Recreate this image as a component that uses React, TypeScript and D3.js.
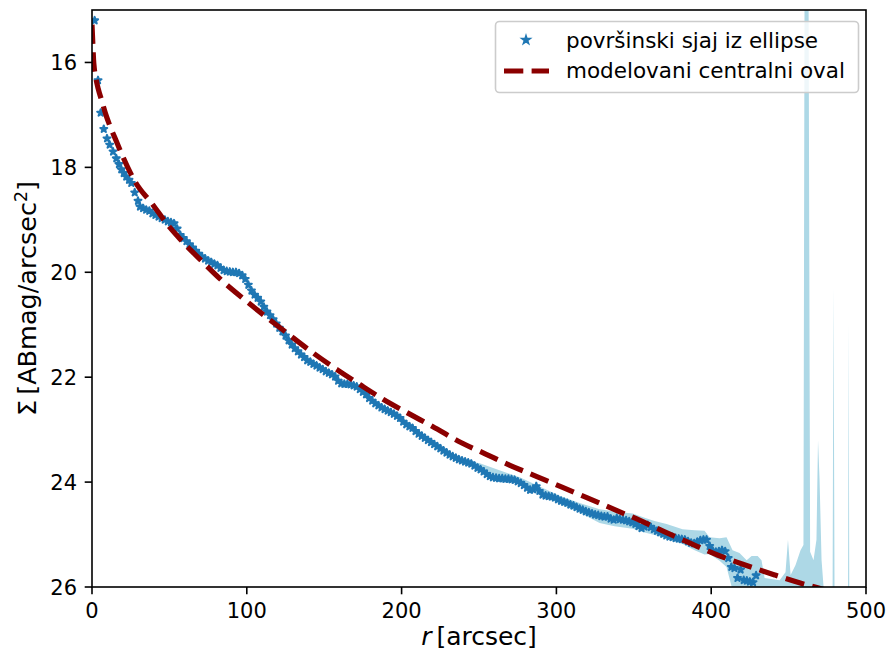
import React from 'react';
import * as d3 from 'd3';

const W = 887;
const H = 654;
const PL = 92, PR = 866, PT = 10, PB = 587;

const xTicks = [0, 100, 200, 300, 400, 500];
const yTicks = [16, 18, 20, 22, 24, 26];

const legendLabels = ['površinski sjaj iz ellipse', 'modelovani centralni oval'];

// surface brightness from ellipse fitting
const dataR = [
  1.7, 3.9, 5.6, 7.6, 9.7, 11.4, 13.6, 15.7, 17.4, 18.9, 20.5, 22.1, 23.9, 25.4, 27.6, 29.7,
  31, 33, 35, 37, 39, 41, 43, 45, 47, 49, 51, 53, 55, 57, 59, 61, 63, 65, 67, 69,
  71, 73, 75, 77, 79, 81, 83, 85, 87, 89, 91, 93, 95, 97, 99, 101, 103, 105, 107, 109,
  111, 113, 115, 117, 119, 121, 123, 125, 127, 129, 131, 133, 135, 137, 139, 141, 143, 145, 147, 149,
  151, 153, 155, 157, 159, 161, 163, 165, 167, 169, 171, 173, 175, 177, 179, 181, 183, 185, 187, 189,
  191, 193, 195, 197, 199, 201, 203, 205, 207, 209, 211, 213, 215, 217, 219, 221, 223, 225, 227, 229,
  231, 233, 235, 237, 239, 241, 243, 245, 247, 249, 251, 253, 255, 257, 259, 261, 263, 265, 267, 269,
  271, 273, 275, 277, 279, 281, 283, 285, 287, 289, 291, 293, 295, 297, 299, 301, 303, 305, 307, 309,
  311, 313, 315, 317, 319, 321, 323, 325, 327, 329, 331, 333, 335, 337, 339, 341, 343, 345, 347, 349,
  351, 353, 355, 357, 359, 361, 363, 365, 367, 369, 371, 373, 375, 377, 379, 381, 383, 385, 387, 389,
  391, 393, 395, 397, 399, 401, 403, 405, 407, 409, 411, 413, 415, 417, 419, 421, 423, 425, 427, 429,
];
const dataMu = [
  15.20, 16.34, 16.96, 17.27, 17.45, 17.57, 17.70, 17.83, 17.94, 18.04, 18.11, 18.18, 18.24, 18.30, 18.48, 18.64,
  18.75, 18.78, 18.81, 18.83, 18.88, 18.91, 18.94, 18.97, 19.00, 19.03, 19.05, 19.07, 19.17, 19.29, 19.35, 19.41, 19.47, 19.53, 19.59, 19.65,
  19.70, 19.74, 19.78, 19.81, 19.84, 19.87, 19.92, 19.96, 19.98, 19.99, 20.00, 20.00, 20.02, 20.06, 20.13, 20.24, 20.35, 20.43, 20.49, 20.56,
  20.66, 20.75, 20.82, 20.90, 20.98, 21.06, 21.13, 21.21, 21.30, 21.38, 21.45, 21.51, 21.57, 21.62, 21.68, 21.71, 21.75, 21.78, 21.82, 21.85,
  21.89, 21.92, 21.95, 21.99, 22.07, 22.12, 22.13, 22.13, 22.14, 22.16, 22.18, 22.23, 22.28, 22.33, 22.40, 22.45, 22.50, 22.54, 22.58, 22.61,
  22.64, 22.67, 22.70, 22.74, 22.78, 22.85, 22.90, 22.94, 22.97, 23.03, 23.08, 23.12, 23.16, 23.20, 23.24, 23.28, 23.32, 23.36, 23.40, 23.44,
  23.48, 23.51, 23.54, 23.57, 23.59, 23.61, 23.63, 23.65, 23.69, 23.73, 23.76, 23.80, 23.85, 23.89, 23.91, 23.92, 23.93, 23.93, 23.94, 23.94,
  23.95, 23.96, 23.99, 24.02, 24.06, 24.11, 24.15, 24.14, 24.08, 24.17, 24.24, 24.26, 24.27, 24.28, 24.30, 24.33, 24.36, 24.38, 24.40, 24.43,
  24.45, 24.48, 24.51, 24.53, 24.56, 24.58, 24.60, 24.62, 24.63, 24.65, 24.66, 24.66, 24.70, 24.72, 24.69, 24.71, 24.72, 24.73, 24.75, 24.77,
  24.80, 24.84, 24.88, 24.85, 24.82, 24.86, 24.90, 24.93, 24.96, 24.99, 25.02, 25.04, 25.05, 25.07, 25.08, 25.09, 25.10, 25.13, 25.16, 25.17,
  25.14, 25.11, 25.10, 25.10, 25.22, 25.31, 25.33, 25.32, 25.30, 25.32, 25.45, 25.62, 25.64, 25.83, 25.67, 25.87, 25.88, 25.90, 25.91, 25.78,
];

// uncertainty band (light blue)
const bandR = [
  240, 250.5, 276.3, 302.1, 315.0, 327.9, 337.6, 349.2, 357.0, 363.4, 371.2, 381.5, 389.3, 395.7, 398.9,
  405.4, 409.9, 413.8, 418.3, 422.9, 426.1, 430.0, 432.5, 434.5, 444.2, 448.0, 449.6, 451.3, 454.5, 457.7,
  459.6, 460.3, 462.9, 463.9, 466.1, 468.0, 469.0, 470.0, 471.3, 472.6, 473.9, 478.4, 479.0, 479.7, 488.4,
  488.8, 489.2, 499.7,
];
const bandUpper = [
  23.58, 23.64, 23.91, 24.26, 24.40, 24.52, 24.56, 24.60, 24.68, 24.74, 24.80, 24.90, 24.92, 24.93, 25.05,
  25.07, 25.05, 25.30, 25.35, 25.49, 25.41, 25.41, 25.49, 25.83, 25.87, 25.72, 25.10, 25.77, 25.58, 25.30,
  25.20, 14.60, 14.60, 25.33, 25.49, 25.10, 23.20, 23.96, 25.49, 26.00, 26.30, 26.30, 20.28, 26.30, 26.30,
  20.95, 26.30, 26.30,
];
const bandLower = [
  23.64, 23.75, 24.04, 24.42, 24.58, 24.78, 24.84, 24.89, 24.96, 25.01, 25.08, 25.18, 25.30, 25.38, 25.37,
  25.50, 25.62, 26.06, 26.30, 26.30, 26.30, 26.30, 26.30, 26.30, 26.30, 26.30, 26.30, 26.30, 26.30, 26.30,
  26.30, 26.30, 26.30, 26.30, 26.30, 26.30, 26.30, 26.30, 26.30, 26.30, 26.30, 26.30, 26.30, 26.30, 26.30,
  26.30, 26.30, 26.30,
];

// modelled central oval profile
const modelR = [
  0, 0.5, 1, 1.5, 2.5, 4, 6.3, 9, 12, 16, 20, 28, 39, 49, 57, 70, 84, 98, 112, 126, 142,
  158, 173, 188, 205, 220, 238, 254, 270, 287, 304, 320, 338, 354, 370, 386, 404, 420, 441, 457,
  474, 500,
];
const modelMu = [
  15.28, 15.62, 15.95, 16.12, 16.30, 16.50, 16.73, 17.00, 17.24, 17.52, 17.80, 18.28, 18.70, 19.10, 19.37,
  19.76, 20.16, 20.51, 20.84, 21.16, 21.52, 21.85, 22.14, 22.42, 22.70, 22.94, 23.24, 23.46, 23.68, 23.89,
  24.10, 24.30, 24.53, 24.73, 24.95, 25.16, 25.39, 25.56, 25.77, 25.92, 26.06, 26.32,
];

const FONT = 'DejaVu Sans, sans-serif';
const BLUE = '#1f77b4';
const RED = '#8b0000';
const BAND = '#add8e6';

export default function App() {
  const x = d3.scaleLinear().domain([0, 500]).range([PL, PR]);
  const y = d3.scaleLinear().domain([15, 26]).range([PT, PB]);

  const bandIdx = bandR.map((_, i) => i);
  const area = d3
    .area<number>()
    .x((i) => x(bandR[i]))
    .y0((i) => y(bandLower[i]))
    .y1((i) => y(bandUpper[i]));

  const modelIdx = modelR.map((_, i) => i);
  const line = d3
    .line<number>()
    .x((i) => x(modelR[i]))
    .y((i) => y(modelMu[i]))
    .curve(d3.curveMonotoneX);

  const starPath = d3.symbol().type(d3.symbolStar).size(15)() as string;
  const dash = '19.3,8.3';

  return (
    <svg
      width={W}
      height={H}
      viewBox={`0 0 ${W} ${H}`}
      style={{ position: 'absolute', left: 0, top: 0, background: '#fff' }}
      fontFamily={FONT}
    >
      <defs>
        <clipPath id="plotclip">
          <rect x={PL} y={PT} width={PR - PL} height={PB - PT} />
        </clipPath>
      </defs>
      <rect x={0} y={0} width={W} height={H} fill="#fff" />
      <g clipPath="url(#plotclip)">
        <path d={area(bandIdx) as string} fill={BAND} stroke="none" />
        <g>
          {dataR.map((r, i) => (
            <path
              key={i}
              d={starPath}
              transform={`translate(${x(r)},${y(dataMu[i])})`}
              fill={BLUE}
              stroke={BLUE}
              strokeWidth={2}
              strokeLinejoin="round"
            />
          ))}
        </g>
        <path
          d={line(modelIdx) as string}
          fill="none"
          stroke={RED}
          strokeWidth={5.2}
          strokeDasharray={dash}
          strokeLinecap="butt"
        />
      </g>

      {/* spines */}
      <rect x={PL} y={PT} width={PR - PL} height={PB - PT} fill="none" stroke="#000" strokeWidth={1.6} />

      {/* x ticks */}
      {xTicks.map((t) => (
        <g key={'x' + t}>
          <line x1={x(t)} x2={x(t)} y1={PB} y2={PB + 7.3} stroke="#000" strokeWidth={1.6} />
          <text x={x(t)} y={618} textAnchor="middle" fontSize={21} fill="#000">
            {t}
          </text>
        </g>
      ))}
      {/* y ticks */}
      {yTicks.map((t) => (
        <g key={'y' + t}>
          <line x1={PL - 7.3} x2={PL} y1={y(t)} y2={y(t)} stroke="#000" strokeWidth={1.6} />
          <text x={77} y={y(t)} dy="0.36em" textAnchor="end" fontSize={21} fill="#000">
            {t}
          </text>
        </g>
      ))}

      {/* axis labels */}
      <text x={(PL + PR) / 2} y={645} textAnchor="middle" fontSize={25} fill="#000">
        <tspan fontStyle="italic">r</tspan>
        <tspan>{'\u2009[arcsec]'}</tspan>
      </text>
      <text
        transform={`translate(36,${(PT + PB) / 2}) rotate(-90)`}
        textAnchor="middle"
        fontSize={25.5}
        fill="#000"
      >
        <tspan>{'Σ\u2009[ABmag/arcsec'}</tspan>
        <tspan dy={-9} fontSize={17.5}>2</tspan>
        <tspan dy={9}>]</tspan>
      </text>

      {/* legend */}
      <g>
        <rect
          x={495.5}
          y={21.5}
          width={363}
          height={71}
          rx={4}
          ry={4}
          fill="#fff"
          fillOpacity={0.8}
          stroke="#cccccc"
          strokeWidth={1.6}
        />
        <path d={starPath} transform="translate(526,40)" fill={BLUE} stroke={BLUE} strokeWidth={2} />
        <text x={566} y={47.5} fontSize={21.5} fill="#000">
          {legendLabels[0]}
        </text>
        <line x1={504} x2={549} y1={71} y2={71} stroke={RED} strokeWidth={5.2} strokeDasharray={dash} />
        <text x={566} y={78} fontSize={21.5} fill="#000">
          {legendLabels[1]}
        </text>
      </g>
    </svg>
  );
}
